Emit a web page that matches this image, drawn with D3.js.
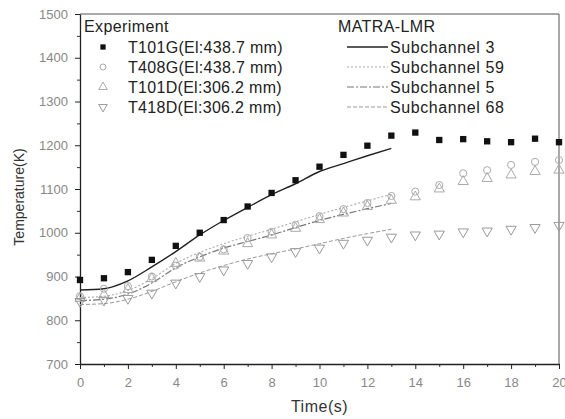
<!DOCTYPE html>
<html>
<head>
<meta charset="utf-8">
<script src="https://cdn.jsdelivr.net/npm/d3@7"></script>
<style>
  body { margin: 0; background: #fff; }
  svg { display: block; font-family: "Liberation Sans", Arial, sans-serif; }
</style>
</head>
<body>
<div id="chart"></div>
<script>
// experiment times (s)
const expTime = [0, 1, 2, 3, 4, 5, 6, 7, 8, 9, 10, 11, 12, 13, 14, 15, 16, 17, 18, 19, 20];
const t101g = [892, 896, 910, 938, 970, 1000, 1029, 1060, 1091, 1120, 1151, 1178, 1199, 1222, 1229, 1212, 1214, 1209, 1207, 1215, 1207];
const t408g = [855, 872, 878, 900, 925, 945, 962, 988, 1002, 1018, 1038, 1054, 1068, 1084, 1094, 1109, 1136, 1143, 1155, 1162, 1166];
const t101d = [850, 858, 870, 895, 930, 942, 958, 975, 995, 1010, 1030, 1045, 1060, 1074, 1082, 1100, 1117, 1124, 1132, 1140, 1143];
const t418d = [843, 846, 850, 862, 885, 900, 915, 930, 945, 957, 965, 976, 983, 990, 995, 997, 1002, 1004, 1008, 1012, 1017];

// MATRA-LMR simulation
const simTime = [0, 1, 2, 3, 4, 5, 6, 7, 8, 9, 10, 11, 12, 13];
const sub3  = [869, 872, 890, 922, 957, 995, 1028, 1058, 1087, 1112, 1140, 1158, 1176, 1193];
const sub59 = [852, 855, 868, 895, 930, 955, 975, 992, 1008, 1025, 1042, 1058, 1073, 1088];
const sub5  = [845, 848, 860, 885, 920, 945, 965, 980, 995, 1012, 1028, 1042, 1055, 1067];
const sub68 = [836, 838, 848, 866, 888, 908, 925, 940, 952, 963, 975, 987, 998, 1008];

const xTicks = [0, 2, 4, 6, 8, 10, 12, 14, 16, 18, 20];
const yTicks = [700, 800, 900, 1000, 1100, 1200, 1300, 1400, 1500];

const width = 565, height = 419;
const svg = d3.select("#chart").append("svg")
    .attr("width", width)
    .attr("height", height);

const x = d3.scaleLinear().domain([0, 20]).range([80, 559]);
const y = d3.scaleLinear().domain([700, 1500]).range([364, 14]);

// frame (top and right)
svg.append("path")
    .attr("d", `M${x(0)},${y(1500)}H${x(20)}V${y(700)}`)
    .attr("fill", "none")
    .attr("stroke", "#555")
    .attr("stroke-width", 1);

// minor ticks
svg.append("g")
    .attr("transform", `translate(0,${y(700)})`)
    .call(d3.axisBottom(x).tickValues(d3.range(1, 20, 2)).tickSize(3).tickFormat(""))
    .call(g => g.select(".domain").remove())
    .selectAll("line").attr("stroke", "#333");
svg.append("g")
    .attr("transform", `translate(${x(0)},0)`)
    .call(d3.axisLeft(y).tickValues(d3.range(750, 1500, 100)).tickSize(3).tickFormat(""))
    .call(g => g.select(".domain").remove())
    .selectAll("line").attr("stroke", "#333");

// x axis
const xAxis = svg.append("g")
    .attr("transform", `translate(0,${y(700)})`)
    .call(d3.axisBottom(x).tickValues(xTicks).tickSize(5).tickSizeOuter(0).tickPadding(9));
xAxis.select(".domain").attr("stroke", "#222").attr("stroke-width", 1.3);
xAxis.selectAll("line").attr("stroke", "#222");
xAxis.selectAll("text").attr("fill", "#888").style("font-size", "13px");

// y axis
const yAxis = svg.append("g")
    .attr("transform", `translate(${x(0)},0)`)
    .call(d3.axisLeft(y).tickValues(yTicks).tickFormat(d3.format("d")).tickSize(5).tickSizeOuter(0).tickPadding(7));
yAxis.select(".domain").attr("stroke", "#222").attr("stroke-width", 1.3);
yAxis.selectAll("line").attr("stroke", "#222");
yAxis.selectAll("text").attr("fill", "#888").style("font-size", "13px");

// axis titles
svg.append("text")
    .attr("x", x(10))
    .attr("y", 412)
    .attr("text-anchor", "middle")
    .attr("fill", "#333")
    .style("font-size", "16px")
    .style("letter-spacing", "0.5px")
    .text("Time(s)");
svg.append("text")
    .attr("transform", "rotate(-90)")
    .attr("x", -197)
    .attr("y", 24)
    .attr("text-anchor", "middle")
    .attr("fill", "#333")
    .style("font-size", "14px")
    .text("Temperature(K)");

// simulation lines
const simSeries = [
    { name: "Subchannel 3",  values: sub3,  color: "#222", dash: null,      w: 1.4 },
    { name: "Subchannel 59", values: sub59, color: "#aaa", dash: "2,2",     w: 1.1 },
    { name: "Subchannel 5",  values: sub5,  color: "#777", dash: "7,2,2,2", w: 1.2 },
    { name: "Subchannel 68", values: sub68, color: "#999", dash: "4,2",     w: 1 }
];

const line = d3.line()
    .x(d => x(d[0]))
    .y(d => y(d[1]))
    .curve(d3.curveMonotoneX);

simSeries.forEach(s => {
    svg.append("path")
        .datum(simTime.map((t, i) => [t, s.values[i]]))
        .attr("d", line)
        .attr("fill", "none")
        .attr("stroke", s.color)
        .attr("stroke-width", s.w)
        .attr("stroke-dasharray", s.dash);
});

// experiment markers
const expSeries = [
    { name: "T101G(El:438.7 mm)", values: t101g, type: d3.symbolSquare,   size: 40, fill: "#111", stroke: "none", rot: 0 },
    { name: "T408G(El:438.7 mm)", values: t408g, type: d3.symbolCircle,   size: 40, fill: "none", stroke: "#aaa", rot: 0 },
    { name: "T101D(El:306.2 mm)", values: t101d, type: d3.symbolTriangle, size: 45, fill: "none", stroke: "#aaa", rot: 0 },
    { name: "T418D(El:306.2 mm)", values: t418d, type: d3.symbolTriangle, size: 45, fill: "none", stroke: "#999", rot: 180 }
];

expSeries.forEach(s => {
    const sym = d3.symbol().type(s.type).size(s.size);
    svg.append("g").selectAll("path")
        .data(expTime.map((t, i) => [t, s.values[i]]))
        .enter().append("path")
        .attr("d", sym)
        .attr("transform", d => `translate(${x(d[0])},${y(d[1])}) rotate(${s.rot})`)
        .attr("fill", s.fill)
        .attr("stroke", s.stroke)
        .attr("stroke-width", 1);
});

// legend: experiment
const rowY = [47, 67, 87, 107];
svg.append("text")
    .attr("x", 84).attr("y", 32)
    .attr("fill", "#222")
    .style("font-size", "16px")
    .style("letter-spacing", "0.4px")
    .text("Experiment");
expSeries.forEach((s, i) => {
    svg.append("path")
        .attr("d", d3.symbol().type(s.type).size(s.size * 0.7))
        .attr("transform", `translate(103,${rowY[i]}) rotate(${s.rot})`)
        .attr("fill", s.fill)
        .attr("stroke", s.stroke);
    svg.append("text")
        .attr("x", 128).attr("y", rowY[i] + 6)
        .attr("fill", "#222")
        .style("font-size", "16px")
        .style("letter-spacing", "0.3px")
        .text(s.name);
});

// legend: simulation
svg.append("text")
    .attr("x", 338).attr("y", 32)
    .attr("fill", "#222")
    .style("font-size", "16px")
    .style("letter-spacing", "0.4px")
    .text("MATRA-LMR");
simSeries.forEach((s, i) => {
    svg.append("line")
        .attr("x1", 347).attr("x2", 388)
        .attr("y1", rowY[i]).attr("y2", rowY[i])
        .attr("stroke", s.color)
        .attr("stroke-width", s.w)
        .attr("stroke-dasharray", s.dash);
    svg.append("text")
        .attr("x", 390).attr("y", rowY[i] + 6)
        .attr("fill", "#222")
        .style("font-size", "16px")
        .style("letter-spacing", "0.6px")
        .text(s.name);
});
</script>
</body>
</html>
